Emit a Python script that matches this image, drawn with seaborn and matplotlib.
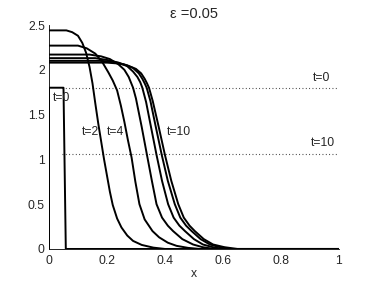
import numpy as np
import pandas as pd
import seaborn as sns
import matplotlib
matplotlib.use("Agg")
import matplotlib.pyplot as plt

# profiles (x, u)
x0 = [0, 0, 0.05, 0.058, 1.0]
u0 = [0, 1.8, 1.8, 0, 0]

x1 = [0, 0.06, 0.08, 0.10, 0.115, 0.128, 0.14, 0.15, 0.16, 0.17, 0.18, 0.19, 0.20,
      0.21, 0.22, 0.235, 0.25, 0.27, 0.29, 0.32, 0.36, 0.40, 1.0]
u1 = [2.44, 2.44, 2.42, 2.38, 2.30, 2.19, 2.03, 1.85, 1.62, 1.40, 1.20, 1.0, 0.82,
      0.64, 0.49, 0.34, 0.24, 0.15, 0.09, 0.045, 0.015, 0, 0]

x2 = [0, 0.10, 0.13, 0.16, 0.185, 0.205, 0.22, 0.235, 0.248, 0.26, 0.272, 0.285,
      0.298, 0.312, 0.33, 0.357, 0.38, 0.41, 0.44, 0.48, 0.52, 1.0]
u2 = [2.27, 2.27, 2.24, 2.18, 2.08, 1.97, 1.88, 1.77, 1.60, 1.42, 1.22, 1.02,
      0.75, 0.50, 0.33, 0.20, 0.13, 0.07, 0.035, 0.012, 0, 0]

x3 = [0, 0.14, 0.18, 0.21, 0.24, 0.26, 0.275, 0.29, 0.30, 0.31, 0.32, 0.338,
      0.355, 0.371, 0.39, 0.41, 0.428, 0.46, 0.497, 0.53, 0.57, 1.0]
u3 = [2.17, 2.17, 2.15, 2.12, 2.06, 2.0, 1.92, 1.80, 1.68, 1.52, 1.36, 1.05,
      0.76, 0.50, 0.35, 0.26, 0.20, 0.11, 0.05, 0.02, 0, 0]

x4 = [0, 0.16, 0.20, 0.24, 0.27, 0.29, 0.305, 0.315, 0.322, 0.335, 0.352, 0.371,
      0.39, 0.411, 0.43, 0.45, 0.469, 0.50, 0.531, 0.565, 0.60, 1.0]
u4 = [2.13, 2.13, 2.11, 2.08, 2.04, 1.98, 1.92, 1.86, 1.80, 1.64, 1.36, 1.05,
      0.76, 0.50, 0.35, 0.26, 0.20, 0.11, 0.05, 0.02, 0, 0]

x5 = [0, 0.18, 0.22, 0.26, 0.29, 0.31, 0.322, 0.33, 0.337, 0.35, 0.368, 0.389,
      0.41, 0.434, 0.453, 0.473, 0.492, 0.523, 0.555, 0.59, 0.63, 1.0]
u5 = [2.10, 2.10, 2.09, 2.06, 2.02, 1.96, 1.90, 1.85, 1.80, 1.65, 1.37, 1.05,
      0.76, 0.50, 0.35, 0.26, 0.20, 0.11, 0.05, 0.02, 0, 0]

x6 = [0, 0.20, 0.24, 0.27, 0.30, 0.318, 0.33, 0.338, 0.345, 0.358, 0.378, 0.40,
      0.422, 0.446, 0.465, 0.485, 0.503, 0.534, 0.566, 0.605, 0.65, 1.0]
u6 = [2.08, 2.08, 2.07, 2.05, 2.01, 1.96, 1.90, 1.85, 1.80, 1.65, 1.37, 1.05,
      0.76, 0.50, 0.35, 0.26, 0.20, 0.11, 0.05, 0.02, 0, 0]

# dotted reference levels
ref_levels = [1.8, 1.065]
ref_labels = ["t=0", "t=10"]

profiles = [(x0, u0), (x1, u1), (x2, u2), (x3, u3), (x4, u4), (x5, u5), (x6, u6)]

sns.set_style("white")
plt.rcParams["font.family"] = ["Liberation Sans", "DejaVu Sans"]

fig = plt.figure(figsize=(3.74, 2.81), dpi=100)
ax = fig.add_axes([0.131, 0.114, 0.775, 0.797])

for i, (xs, us) in enumerate(profiles):
    df = pd.DataFrame({"x": xs, "u": us})
    sns.lineplot(data=df, x="x", y="u", sort=False, estimator=None,
                 color="k", lw=1.4, ax=ax)

for lev in ref_levels:
    sns.lineplot(x=[0.045, 1.0], y=[lev, lev], color="k", lw=0.8,
                 linestyle=(0, (0.8, 2.2)), ax=ax, alpha=0.8)

fs = 8.7
ax.text(0.012, 1.69, "t=0", fontsize=fs, va="center", ha="left")
ax.text(0.115, 1.31, "t=2", fontsize=fs, va="center", ha="left")
ax.text(0.198, 1.31, "t=4", fontsize=fs, va="center", ha="left")
ax.text(0.405, 1.31, "t=10", fontsize=fs, va="center", ha="left")
ax.text(0.912, 1.91, ref_labels[0], fontsize=fs, va="center", ha="left")
ax.text(0.903, 1.18, ref_labels[1], fontsize=fs, va="center", ha="left")

ax.set_xlim(0, 1)
ax.set_ylim(0, 2.5)
ax.set_xticks([0, 0.2, 0.4, 0.6, 0.8, 1])
ax.set_xticklabels(["0", "0.2", "0.4", "0.6", "0.8", "1"])
ax.set_yticks([0, 0.5, 1, 1.5, 2, 2.5])
ax.set_yticklabels(["0", "0.5", "1", "1.5", "2", "2.5"])
ax.tick_params(direction="in", length=3, width=0.6, labelsize=fs, pad=4)
ax.tick_params(axis="y", pad=3)
ax.set_xlabel("x", fontsize=fs, labelpad=1)
ax.set_ylabel("")
ax.set_title("\u03b5 =0.05", fontsize=10.5, pad=5)

sns.despine(ax=ax)
for s in ["left", "bottom"]:
    ax.spines[s].set_linewidth(0.6)
    ax.spines[s].set_color("k")

fig.savefig("out.png", dpi=100)
